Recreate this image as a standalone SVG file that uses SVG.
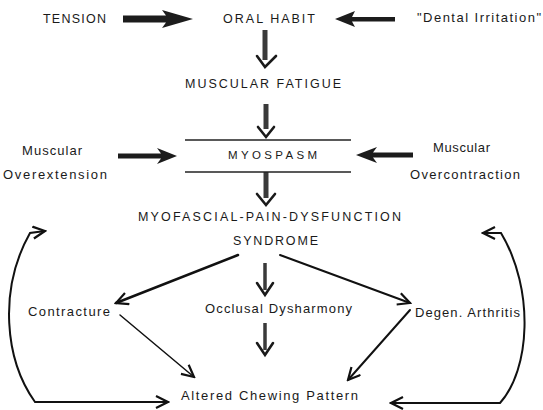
<svg xmlns="http://www.w3.org/2000/svg" width="543" height="410" viewBox="0 0 543 410">
<style>
  text { font-family: "Liberation Sans", Arial, sans-serif; fill: #1a1a1a; }
  .cap { font-size: 12.5px; }
  .sm { font-size: 11.5px; }
  .lbl { font-size: 13px; }
  .blk { fill: #1c1c1c; }
  .shaft { stroke: #3a3a3a; stroke-width: 5; fill: none; }
  .shaft-t { stroke: #3a3a3a; stroke-width: 3.5; fill: none; }
  .vhead { stroke: #1a1a1a; stroke-width: 2.6; fill: none; stroke-linejoin: miter; stroke-linecap: round; }
  .ln { stroke: #111; fill: none; stroke-linecap: round; }
  .box { stroke: #222; stroke-width: 1.6; }
</style>
<defs>
  <marker id="chev" viewBox="-1 -1 15 15" refX="12" refY="6" markerWidth="15" markerHeight="15" markerUnits="userSpaceOnUse" orient="auto-start-reverse">
    <path d="M0,0 L12,6 L0,12" fill="none" stroke="#111" stroke-width="2.2"/>
  </marker>
</defs>
<rect width="543" height="410" fill="#ffffff"/>

<g id="connectors">
  <!-- block arrows -->
  <path class="blk" d="M123,15.5 L166,15.5 L162,10 L193,19 L162,28 L166,22.5 L123,22.5 Z"/>
  <path class="blk" d="M395,17 L352,17 L355,11 L335,19 L355,27 L352,21.5 L395,21.5 Z"/>
  <path class="blk" d="M118,153.5 L161,153.5 L157,148 L177,156 L157,164 L161,158.5 L118,158.5 Z"/>
  <path class="blk" d="M413,152.5 L373,152.5 L377,147 L356,155 L377,163 L373,157.5 L413,157.5 Z"/>
  <!-- vertical arrows -->
  <line class="shaft" x1="265" y1="30" x2="265" y2="60"/>
  <polyline class="vhead" points="257,56 265,67 276,56"/>
  <line class="shaft" x1="266" y1="104" x2="266" y2="129"/>
  <polyline class="vhead" points="258,127 266,137 274,127"/>
  <line class="shaft" x1="266" y1="172" x2="266" y2="198"/>
  <polyline class="vhead" points="257,194 266,205 275,194"/>
  <line class="shaft-t" x1="265" y1="263" x2="265" y2="290"/>
  <polyline class="vhead" points="257,283 265,295 273,283"/>
  <line class="shaft-t" x1="265" y1="323" x2="265" y2="350"/>
  <polyline class="vhead" points="257,343 265,355 273,343"/>
  <!-- diagonal arrows -->
  <line class="ln" stroke-width="2.5" x1="238" y1="255" x2="116" y2="303" marker-end="url(#chev)"/>
  <line class="ln" stroke-width="2" x1="280" y1="255" x2="410" y2="303" marker-end="url(#chev)"/>
  <line class="ln" stroke-width="1.5" x1="120" y1="315" x2="194" y2="377" marker-end="url(#chev)"/>
  <line class="ln" stroke-width="2" x1="410" y1="310" x2="348" y2="380" marker-end="url(#chev)"/>
  <!-- feedback loops -->
  <path class="ln" stroke-width="2" d="M45,231 L30,233 C-2,290 5,360 35,402 L168,402" marker-start="url(#chev)" marker-end="url(#chev)"/>
  <path class="ln" stroke-width="2" d="M483,233 L501,233 C535,290 530,370 500,403 L391,403" marker-start="url(#chev)" marker-end="url(#chev)"/>
</g>

<g id="tension"><text class="cap" x="43" y="23" textLength="63">TENSION</text></g>
<g id="oral-habit"><text class="cap" x="223" y="23" textLength="92">ORAL HABIT</text></g>
<g id="dental-irritation"><text class="lbl" x="417" y="22" textLength="124">"Dental Irritation"</text></g>
<g id="muscular-fatigue"><text class="cap" x="185" y="88" textLength="156">MUSCULAR FATIGUE</text></g>
<g id="myospasm">
  <line class="box" x1="185" y1="140" x2="351" y2="140"/>
  <line class="box" x1="185" y1="172" x2="351" y2="172"/>
  <text class="sm" x="228" y="159" textLength="89">MYOSPASM</text>
</g>
<g id="overextension">
  <text class="lbl" x="22" y="155" textLength="60">Muscular</text>
  <text class="lbl" x="3" y="179" textLength="104">Overextension</text>
</g>
<g id="overcontraction">
  <text class="lbl" x="433" y="152" textLength="57">Muscular</text>
  <text class="lbl" x="410" y="179" textLength="110">Overcontraction</text>
</g>
<g id="mpd">
  <text class="cap" x="138" y="221" textLength="263">MYOFASCIAL-PAIN-DYSFUNCTION</text>
  <text class="cap" x="233" y="245" textLength="85">SYNDROME</text>
</g>
<g id="contracture"><text class="lbl" x="28" y="316" textLength="82">Contracture</text></g>
<g id="occlusal"><text class="lbl" x="205" y="313" textLength="147">Occlusal Dysharmony</text></g>
<g id="degen"><text class="lbl" x="415" y="317" textLength="105">Degen. Arthritis</text></g>
<g id="altered"><text class="lbl" x="181" y="400" textLength="177">Altered Chewing Pattern</text></g>
</svg>
